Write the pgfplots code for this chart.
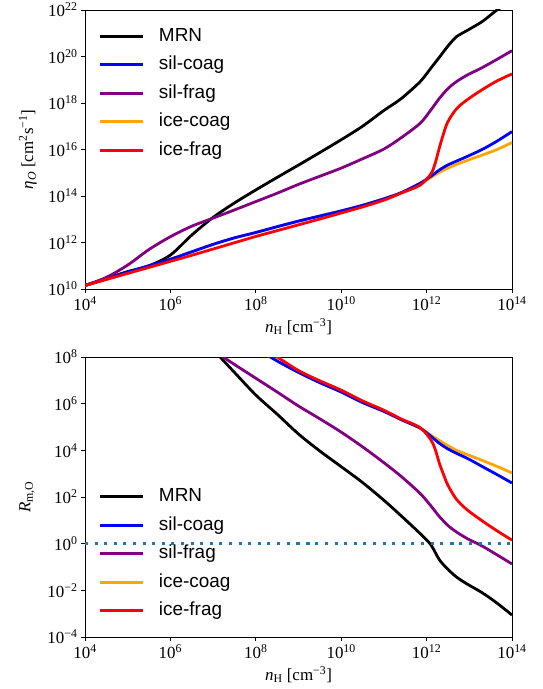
\documentclass[border=0pt]{standalone}
\usepackage{fontspec}
\setmainfont{Liberation Serif}
\newfontfamily\sansf{Liberation Sans}
\usepackage{pgfplots}
\pgfplotsset{compat=1.18}
\definecolor{mplblue}{RGB}{31,119,180}
\definecolor{cpurple}{RGB}{128,0,128}
\definecolor{corange}{RGB}{255,165,0}
\newcommand{\tf}{\fontsize{17}{20}\selectfont}
\pgfplotsset{
 common/.style={
  scale only axis, width=427bp,
  xmin=1e4, xmax=1e14,
  xtick={1e4,1e6,1e8,1e10,1e12,1e14},
  xticklabels={10\textsuperscript{4},10\textsuperscript{6},10\textsuperscript{8},10\textsuperscript{10},10\textsuperscript{12},10\textsuperscript{14}},
  xminorticks=false, yminorticks=false,
  tick align=outside, tick pos=left, major tick length=4bp,
  every tick/.style={black, line width=0.8bp},
  axis line style={black, line width=0.8bp},
  ticklabel style={font=\tf},
  label style={font=\tf},
  xlabel={\textit{n}\textsubscript{H} [cm\textsuperscript{−3}]},
  xlabel style={at={(axis description cs:0.5,0)}, anchor=north, inner sep=0pt, yshift=-29bp},
  legend cell align=left,
  legend image code/.code={\draw[##1] (0bp,0bp) -- (43bp,0bp); \path (58bp,0bp);},
  every axis plot/.append style={line width=2.8bp, smooth},
  legend style={draw=none, fill=none, font=\sansf\fontsize{19}{22}\selectfont,
    row sep=10.5bp, nodes={inner sep=0pt, text height=14bp, text depth=4bp}},
 }
}
\begin{document}
\begin{tikzpicture}
\useasboundingbox (-85bp,-400bp) rectangle (458bp,289bp);
\begin{loglogaxis}[common, at={(0,0)}, anchor=south west, height=279bp,
  ymin=1e10, ymax=1e22,
  ytick={1e10,1e12,1e14,1e16,1e18,1e20,1e22},
  yticklabels={10\textsuperscript{10},10\textsuperscript{12},10\textsuperscript{14},10\textsuperscript{16},10\textsuperscript{18},10\textsuperscript{20},10\textsuperscript{22}},
  ylabel={\textit{η}\textsubscript{\textit{O}} [cm\textsuperscript{2}s\textsuperscript{−1}]},
  every axis y label/.style={at={(axis description cs:-0.1335,0.5)}, rotate=90, anchor=center, font=\tf},
  legend style={at={(axis description cs:0,1)}, anchor=north west, xshift=10bp, yshift=-15bp},
]
\addplot[corange, forget plot] coordinates {(1e4,1.413e10) (3.162e4,2.692e10) (1e5,5.248e10) (3.162e5,1e11) (1e6,1.905e11) (3.162e6,3.981e11) (1e7,8.318e11) (3.162e7,1.585e12) (1e8,2.692e12) (3.162e8,4.786e12) (1e9,8.318e12) (3.162e9,1.380e13) (1e10,2.291e13) (3.162e10,3.981e13) (1e11,7.586e13) (2.512e11,1.380e14) (7.079e11,3.548e14) (1.259e12,6.310e14) (1.995e12,1.047e15) (3.162e12,1.585e15) (5.012e12,2.291e15) (8.913e12,3.388e15) (1.995e13,5.754e15) (4.467e13,1e16) (1e14,1.995e16)};
\addplot[black] coordinates {(1e4,1.413e10) (3.162e4,2.818e10) (1e5,5.623e10) (3.162e5,1e11) (1e6,2.884e11) (3.162e6,2.089e12) (1e7,1.202e13) (3.162e7,5.012e13) (1e8,1.820e14) (3.162e8,6.310e14) (1e9,2.138e15) (3.162e9,7.413e15) (1e10,2.630e16) (3.162e10,1e17) (1e11,4.786e17) (2.512e11,1.514e18) (7.079e11,8.318e18) (1.259e12,3.162e19) (1.995e12,9.333e19) (3.162e12,2.818e20) (5.012e12,7.079e20) (8.913e12,1.318e21) (1.995e13,3.162e21) (4.467e13,1e22) (1e14,2.512e22)};
\addlegendentry{MRN}
\addplot[blue] coordinates {(1e4,1.413e10) (3.162e4,2.692e10) (1e5,5.248e10) (3.162e5,1e11) (1e6,1.905e11) (3.162e6,3.981e11) (1e7,8.318e11) (3.162e7,1.585e12) (1e8,2.692e12) (3.162e8,4.786e12) (1e9,8.318e12) (3.162e9,1.380e13) (1e10,2.291e13) (3.162e10,3.981e13) (1e11,7.586e13) (2.512e11,1.380e14) (7.079e11,3.548e14) (1.259e12,7.079e14) (1.995e12,1.318e15) (3.162e12,2.188e15) (5.012e12,3.162e15) (8.913e12,5.012e15) (1.995e13,1e16) (4.467e13,2.291e16) (1e14,5.888e16)};
\addlegendentry{sil-coag}
\addplot[cpurple] coordinates {(1e4,1.413e10) (3.162e4,3.162e10) (1e5,1.072e11) (3.162e5,5.012e11) (1e6,1.778e12) (3.162e6,5.012e12) (1e7,1.122e13) (3.162e7,2.512e13) (1e8,5.754e13) (3.162e8,1.318e14) (1e9,3.162e14) (3.162e9,7.079e14) (1e10,1.585e15) (3.162e10,3.981e15) (1e11,1.047e16) (2.512e11,3.162e16) (7.079e11,1.349e17) (1.259e12,5.012e17) (1.995e12,1.585e18) (3.162e12,4.169e18) (5.012e12,8.318e18) (8.913e12,1.585e19) (1.995e13,3.311e19) (4.467e13,7.586e19) (1e14,1.778e20)};
\addlegendentry{sil-frag}
\addlegendimage{corange, line width=2.8bp}
\addlegendentry{ice-coag}
\addplot[red] coordinates {(1e4,1.413e10) (3.162e4,2.570e10) (1e5,4.677e10) (3.162e5,8.511e10) (1e6,1.549e11) (3.162e6,2.818e11) (1e7,5.248e11) (3.162e7,9.77e11) (1e8,1.820e12) (3.162e8,3.236e12) (1e9,5.754e12) (3.162e9,1.023e13) (1e10,1.862e13) (3.162e10,3.388e13) (1e11,6.607e13) (2.512e11,1.318e14) (7.079e11,2.951e14) (1.259e12,8.913e14) (1.585e12,2.512e15) (1.995e12,1.202e16) (2.512e12,5.012e16) (3.162e12,1.585e17) (5.012e12,5.623e17) (8.913e12,1.380e18) (1.995e13,3.715e18) (4.467e13,8.913e18) (1e14,1.778e19)};
\addlegendentry{ice-frag}
\end{loglogaxis}
\begin{loglogaxis}[common, at={(0,-348bp)}, anchor=south west, height=280bp,
  ymin=1e-4, ymax=1e8,
  ytick={1e-4,1e-2,1,1e2,1e4,1e6,1e8},
  yticklabels={10\textsuperscript{−4},10\textsuperscript{−2},10\textsuperscript{0},10\textsuperscript{2},10\textsuperscript{4},10\textsuperscript{6},10\textsuperscript{8}},
  ylabel={\textit{R}\textsubscript{m,O}},
  every axis y label/.style={at={(axis description cs:-0.136,0.5)}, rotate=90, anchor=center, font=\tf},
  legend style={at={(axis description cs:0,0)}, anchor=south west, xshift=10bp, yshift=15bp},
]
\addplot[corange, forget plot] coordinates {(3.162e7,1e9) (1e8,2.399e8) (3.162e8,6.761e7) (1e9,2.188e7) (3.162e9,7.943e6) (1e10,3.162e6) (3.162e10,1.122e6) (1e11,4.677e5) (2.512e11,2.089e5) (7.079e11,8.913e4) (1.259e12,4.467e4) (1.995e12,2.630e4) (3.162e12,1.585e4) (5.012e12,1e4) (8.913e12,6607) (1.995e13,3715) (4.467e13,2042) (1e14,1072)};
\addplot[black] coordinates {(3.162e6,1.905e9) (1e7,2.089e8) (3.162e7,2.188e7) (1e8,2.344e6) (3.162e8,3.548e5) (1e9,5.012e4) (3.162e9,9.333e3) (1e10,1.995e3) (3.162e10,416.9) (1e11,72.44) (2.512e11,15.85) (7.079e11,2.692) (1.259e12,0.891) (1.995e12,0.2042) (3.162e12,0.0794) (5.012e12,0.0372) (8.913e12,0.0186) (1.995e13,0.00794) (4.467e13,0.00282) (1e14,8.71e-4)};
\addlegendentry{MRN}
\addplot[blue] coordinates {(3.162e7,1e9) (1e8,2.399e8) (3.162e8,6.761e7) (1e9,2.188e7) (3.162e9,7.943e6) (1e10,3.162e6) (3.162e10,1.122e6) (1e11,4.677e5) (2.512e11,2.089e5) (7.079e11,8.913e4) (1.259e12,3.981e4) (1.995e12,1.995e4) (3.162e12,1.148e4) (5.012e12,7413) (8.913e12,4571) (1.995e13,2042) (4.467e13,912) (1e14,398.1)};
\addlegendentry{sil-coag}
\addplot[cpurple] coordinates {(3.162e6,7.943e8) (1e7,1.905e8) (3.162e7,4.786e7) (1e8,1.230e7) (3.162e8,3.162e6) (1e9,7.943e5) (3.162e9,2.239e5) (1e10,6.026e4) (3.162e10,1.413e4) (1e11,2951) (2.512e11,776.2) (7.079e11,141.3) (1.259e12,41.69) (1.995e12,14.45) (3.162e12,6.026) (5.012e12,3.162) (8.913e12,1.660) (1.995e13,0.794) (4.467e13,0.331) (1e14,0.135)};
\addlegendentry{sil-frag}
\addlegendimage{corange, line width=2.8bp}
\addlegendentry{ice-coag}
\addplot[red] coordinates {(3.162e7,1.259e9) (1e8,3.548e8) (3.162e8,1e8) (1e9,2.630e7) (3.162e9,9.550e6) (1e10,3.802e6) (3.162e10,1.318e6) (1e11,5.248e5) (2.512e11,2.239e5) (7.079e11,9.333e4) (1.259e12,2.818e4) (1.585e12,1.122e4) (1.995e12,2754) (2.512e12,891.3) (3.162e12,316.2) (5.012e12,79.43) (8.913e12,28.18) (1.995e13,9.55) (4.467e13,3.548) (1e14,1.413)};
\addlegendentry{ice-frag}
\addplot[mplblue, line width=3bp, dash pattern=on 3bp off 6.6bp, forget plot] coordinates {(1e4,1) (1e14,1)};
\end{loglogaxis}
\end{tikzpicture}
\end{document}
